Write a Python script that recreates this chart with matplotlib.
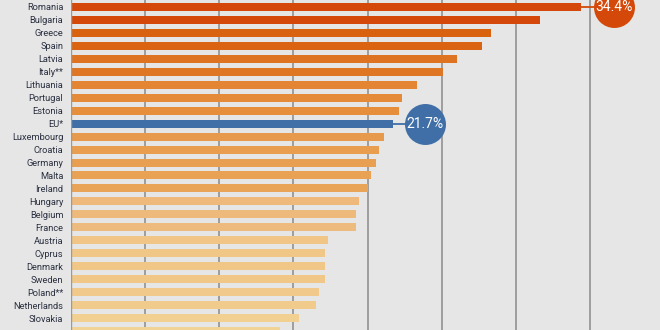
import matplotlib
matplotlib.use("Agg")
import matplotlib.pyplot as plt

countries = ["Romania", "Bulgaria", "Greece", "Spain", "Latvia", "Italy**", "Lithuania",
             "Portugal", "Estonia", "EU*", "Luxembourg", "Croatia", "Germany", "Malta",
             "Ireland", "Hungary", "Belgium", "France", "Austria", "Cyprus", "Denmark",
             "Sweden", "Poland**", "Netherlands", "Slovakia", "Finland"]
values = [34.4, 31.6, 28.3, 27.7, 26.0, 25.1, 23.3, 22.3, 22.1, 21.7, 21.1, 20.8, 20.6,
          20.2, 20.0, 19.4, 19.2, 19.2, 17.3, 17.1, 17.1, 17.1, 16.7, 16.5, 15.4, 14.1]
colors = ["#D4490A", "#D4490A", "#D9620F", "#DA6411", "#DE7422", "#DE7624", "#E38533",
          "#E48A38", "#E68E3C", "#3F6FA6", "#E79A4C", "#E89D4F", "#E89F51", "#E9A254",
          "#E9A457", "#EEB97A", "#EEBA7C", "#EEBB7E", "#F0C585", "#F0C787", "#F0C787",
          "#F0C787", "#F1C98A", "#F1CB8C", "#F2D092", "#F2D396"]
highlights = {"Romania": "34.4%", "EU*": "21.7%"}

bg = "#E6E6E6"
fig = plt.figure(figsize=(6.6, 3.3), dpi=100, facecolor=bg)
ax = fig.add_axes([71 / 660, 0, 1 - 71 / 660, 1])
ax.set_facecolor(bg)

n = len(countries)
ypos = list(range(n))
ax.barh(ypos, values, height=0.62, color=colors, zorder=2)

for x in range(5, 40, 5):
    ax.axvline(x, color="#8A8A8A", lw=1.1, zorder=1)
ax.axvline(0, color="#9A9A9A", lw=1.0, zorder=3)

for i, (c, v, col) in enumerate(zip(countries, values, colors)):
    if c in highlights:
        cx = v + 2.2
        ax.plot([v, cx], [i, i], color=col, lw=1.3, zorder=3, solid_capstyle="butt")
        ax.plot([cx], [i], marker="o", markersize=29.5, color=col, zorder=4,
                markeredgewidth=0)
        ax.text(cx, i, highlights[c], color="white", fontsize=10, ha="center",
                va="center", family=["Liberation Sans Narrow", "Roboto"], zorder=5)

ax.set_yticks(ypos)
ax.set_yticklabels(countries, fontsize=6.7, color="#2B3040",
                   family=["Liberation Sans Narrow", "Roboto"])
ax.tick_params(axis="y", length=0, pad=5.5)
ax.set_xticks([])
ax.set_xlim(0, (660 - 71) / 14.83)
ax.set_ylim((330 - 7) / 12.96, -7 / 12.96)
for s in ax.spines.values():
    s.set_visible(False)

fig.savefig("out.png", dpi=100, facecolor=bg)
